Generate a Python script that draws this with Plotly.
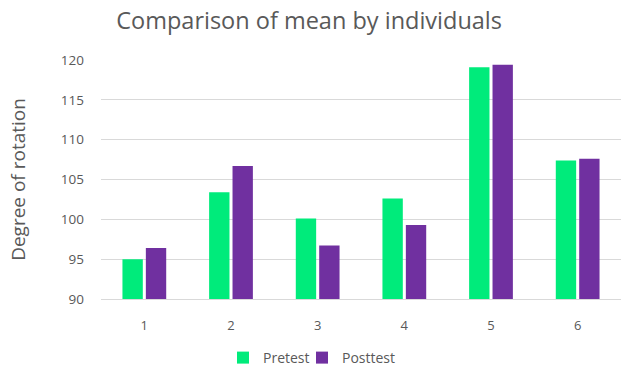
import plotly.graph_objects as go

categories = ["1", "2", "3", "4", "5", "6"]
pretest = [95.0, 103.4, 100.1, 102.6, 119.1, 107.4]
posttest = [96.4, 106.7, 96.7, 99.3, 119.4, 107.6]
y_ticks = [90, 95, 100, 105, 110, 115, 120]

FONT = "Open Sans"
GREY = "#595959"

fig = go.Figure()
fig.add_trace(go.Bar(x=categories, y=pretest, name="Pretest", legend="legend",
                     marker=dict(color="#00EB7B", line=dict(width=0))))
fig.add_trace(go.Bar(x=categories, y=posttest, name="Posttest", legend="legend2",
                     marker=dict(color="#7030A0", line=dict(width=0))))

legend_style = dict(orientation="h", xref="container", xanchor="left",
                    yref="container", y=11 / 369, yanchor="middle",
                    font=dict(family=FONT, size=14, color=GREY),
                    itemwidth=30, bgcolor="rgba(0,0,0,0)")

fig.update_layout(
    width=622, height=369,
    margin=dict(l=101, r=1, t=60, b=70, autoexpand=False),
    paper_bgcolor="white", plot_bgcolor="white",
    barmode="group", bargap=0.46, bargroupgap=0.13,
    font=dict(family=FONT, color=GREY, size=13),
    title=dict(text="Comparison of mean by individuals",
               font=dict(family=FONT, size=23.5, color=GREY),
               x=0.497, xref="container", xanchor="center",
               y=1 - 21 / 369, yref="container", yanchor="middle"),
    legend=dict(legend_style, x=223 / 622),
    legend2=dict(legend_style, x=302 / 622),
    showlegend=True,
)
fig.update_xaxes(showgrid=False, showline=True, linecolor="#d9d9d9",
                 linewidth=1, ticks="", ticklabelstandoff=14, automargin=False,
                 tickfont=dict(size=13, color=GREY))
fig.update_yaxes(range=[90, 120], tickvals=y_ticks, showgrid=True,
                 gridcolor="#d9d9d9", gridwidth=1, zeroline=False,
                 showline=False, ticks="", ticklabelstandoff=16, automargin=False,
                 tickfont=dict(size=13.5, color=GREY),
                 title=dict(text="Degree of rotation", standoff=30,
                            font=dict(size=19, color=GREY)))

fig.write_html("out.html")
